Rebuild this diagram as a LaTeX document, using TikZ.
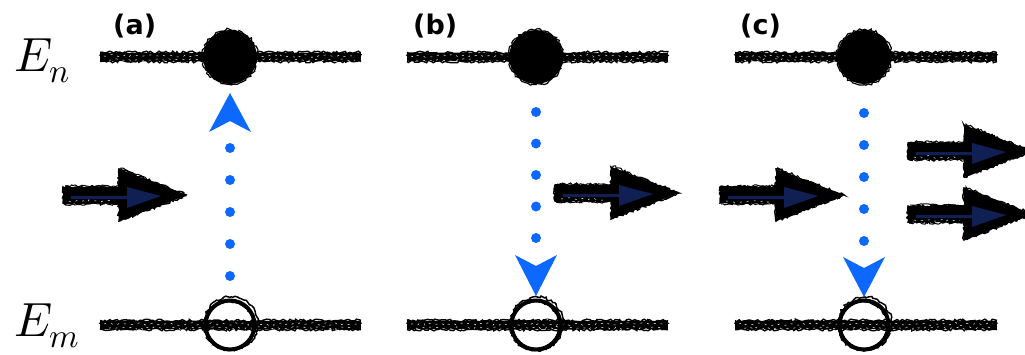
\documentclass[tikz,border=0pt]{standalone}
\usepackage{fontspec}
\usepackage{unicode-math}
\setmathfont{Latin Modern Math}
\newfontfamily\panelfont{DejaVu Sans}
\usetikzlibrary{calc,decorations.pathmorphing}

\definecolor{transblue}{RGB}{12,104,255}
\definecolor{photonnavy}{RGB}{16,32,84}

\tikzset{
  x=1pt, y=-1pt,
  rough/.style={decorate, decoration={random steps, segment length=2.2pt, amplitude=1.3pt},
                line width=1.5pt, black},
  levelbase/.style={line width=7.5pt, black},
  speck/.style={decorate, decoration={random steps, segment length=3pt, amplitude=1.5pt},
                line width=0.5pt, white, dash pattern=on 2pt off 5pt},
  electron/.style={circle, fill=black, minimum size=54pt, inner sep=0pt},
  hole/.style={circle, draw=black, line width=4pt, minimum size=49pt, inner sep=0pt},
  dotline/.style={transblue, line width=10pt, line cap=round, dash pattern=on 0pt off #1},
  dotline/.default=32pt,
  tipfill/.style={fill=transblue},
  energy/.style={font=\fontsize{48}{52}\selectfont, inner sep=0pt},
  panellabel/.style={font=\panelfont\bfseries\fontsize{27}{30}\selectfont, inner sep=0pt},
  photon/.pic={
    \fill[black] (0,-8) -- (56,-8) -- (56,-26) -- (124,0) -- (56,26) -- (56,8) -- (0,8) -- cycle;
    \fill[photonnavy] (8,1) -- (64,1) -- (64,-8) -- (98,1) -- (64,13) -- (64,4) -- (8,4) -- cycle;
    \draw[rough] (0,-8) -- (56,-8) -- (56,-26) -- (124,0) -- (56,26) -- (56,8) -- (0,8) -- cycle;
    \draw[rough, line width=1pt] (2,-9) -- (58,-9) -- (58,-27) -- (122,1) -- (58,25) -- (58,9) -- (1,9);
    \draw[speck] (6,6) -- (52,6);
  }
}

% a rough, charcoal-like energy level between two named ends
\newcommand\levelbar[2]{%
  \draw[levelbase] (#1) -- (#2);
  \draw[rough] ($(#1)+(0,-4.5)$) -- ($(#2)+(0,-4.5)$);
  \draw[rough] ($(#1)+(0,4.5)$) -- ($(#2)+(0,4.5)$);
  \draw[rough, line width=1pt] ($(#1)+(-1,-2)$) -- ($(#2)+(1,-2)$);
  \draw[rough, line width=1pt] ($(#1)+(1,2)$) -- ($(#2)+(-1,2)$);
  \draw[speck] ($(#1)+(4,-1)$) -- ($(#2)+(-4,-1)$);
  \draw[speck] ($(#1)+(9,3)$) -- ($(#2)+(-6,3)$);
}

\begin{document}
\begin{tikzpicture}
\pgfmathsetseed{7}
\useasboundingbox (0,0) rectangle (1025,354);

% level labels
\node[energy, anchor=base west] (En) at (14,71) {$E_n$};
\node[energy, anchor=base west] (Em) at (14,336) {$E_m$};

% panel labels
\node[panellabel, anchor=base west] (la) at (113,34) {(a)};
\node[panellabel, anchor=base west] (lb) at (413,34) {(b)};
\node[panellabel, anchor=base west] (lc) at (740,34) {(c)};

% level end points
\coordinate (a-uL) at (100,57);  \coordinate (a-uR) at (361,57);
\coordinate (a-dL) at (100,325); \coordinate (a-dR) at (361,325);
\coordinate (b-uL) at (407,57);  \coordinate (b-uR) at (668,57);
\coordinate (b-dL) at (407,325); \coordinate (b-dR) at (668,325);
\coordinate (c-uL) at (735,57);  \coordinate (c-uR) at (997,57);
\coordinate (c-dL) at (735,325); \coordinate (c-dR) at (997,325);

\levelbar{a-uL}{a-uR}
\levelbar{a-dL}{a-dR}
\levelbar{b-uL}{b-uR}
\levelbar{b-dL}{b-dR}
\levelbar{c-uL}{c-uR}
\levelbar{c-dL}{c-dR}

% electrons (filled) and holes (open)
\node[electron] (a-up) at (230,57) {};
\node[electron] (b-up) at (536,57) {};
\node[electron] (c-up) at (864,57) {};
\node[hole] (a-low) at (230,325) {};
\node[hole] (b-low) at (536,325) {};
\node[hole] (c-low) at (864,325) {};

\foreach \n in {a,b,c}{
  \draw[rough, line width=1.2pt] (\n-up) circle (27.5pt);
  \draw[rough, line width=1.5pt] ($(\n-low)+(1,-1.5)$) circle (26.5pt);
  \draw[rough, line width=1pt] ($(\n-low)+(-1,1)$) circle (24.5pt);
}

% (a) absorption: dotted transition upward
\draw[dotline] ($(a-low)+(0,-49)$) -- ($(a-up)+(0,90.5)$);
\fill[tipfill] ($(a-up)+(0,36)$) -- ($(a-up)+(21,75)$) -- ($(a-up)+(0,64)$) -- ($(a-up)+(-21,75)$) -- cycle;

% (b) spontaneous emission: dotted transition downward
\draw[dotline=31.5pt] ($(b-up)+(0,55)$) -- ($(b-low)+(0,-86.5)$);
\fill[tipfill] ($(b-low)+(0,-29)$) -- ($(b-low)+(21,-70)$) -- ($(b-low)+(0,-59)$) -- ($(b-low)+(-21,-70)$) -- cycle;

% (c) stimulated emission: dotted transition downward
\draw[dotline] ($(c-up)+(0,56)$) -- ($(c-low)+(0,-83.5)$);
\fill[tipfill] ($(c-low)+(0,-28)$) -- ($(c-low)+(21,-68)$) -- ($(c-low)+(0,-57)$) -- ($(c-low)+(-21,-68)$) -- cycle;

% photons
\pic (pa) at (63,195) {photon};
\pic (pb) at (555,193) {photon};
\pic (pc) at (720,195) {photon};
\pic (pc1) at (908,151) {photon};
\pic (pc2) at (908,214) {photon};
\end{tikzpicture}
\end{document}
